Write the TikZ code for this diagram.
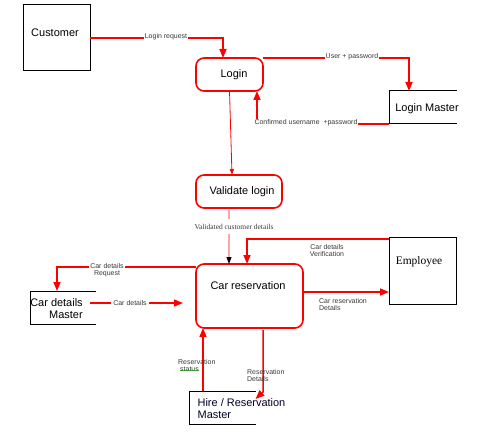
\documentclass[tikz,border=0pt]{standalone}
\usepackage{fontspec}
\setmainfont{Liberation Sans}
\newfontfamily\seriffont{Liberation Serif}
\usetikzlibrary{arrows.meta,decorations.pathmorphing}
\begin{document}
\begin{tikzpicture}[x=1bp,y=-1bp,
  extbox/.style={draw=black, line width=1bp, inner sep=0, outer sep=0},
  procbox/.style={draw=red, line width=1.6bp, rounded corners=8bp, inner sep=0, outer sep=0},
  openbox/.style={inner sep=0, outer sep=0},
  boxline/.style={draw=black, line width=1bp},
  flow/.style={draw=red, line width=1.5bp, -{Triangle[length=9bp,width=7bp]}},
  thinflow/.style={draw=red, line width=0.8bp, -{Triangle[length=6bp,width=4bp]}},
  valflow/.style={draw=red, line width=0.9bp, -{Triangle[length=7bp,width=5bp,color=black,fill=black]}},
  lbl/.style={font=\fontsize{7}{7.4}\selectfont, text=black!78, fill=white, inner sep=1bp},
  txt/.style={font=\fontsize{11}{12}\selectfont, inner sep=0, text=black}]
\useasboundingbox (0,0) rectangle (479,433);

% nodes
\node[extbox, minimum width=67bp, minimum height=66bp] (cust) at (56.5,38) {};
\node[txt] (custt) at (55,33) {Customer};
\node[procbox, minimum width=67bp, minimum height=33bp] (login) at (229.5,74.5) {};
\node[txt] (logint) at (234,75) {Login};
\node[openbox, minimum width=68bp, minimum height=33bp] (lm) at (423,107.5) {};
\draw[boxline] (lm.north east) -- (lm.north west) -- (lm.south west) -- (lm.south east);
\node[txt] (lmt) at (427,109) {Login Master};
\node[procbox, minimum width=86bp, minimum height=33bp] (val) at (239,191.5) {};
\node[txt] (valt) at (242,192) {Validate login};
\node[procbox, minimum width=107bp, minimum height=64bp] (car) at (249.5,296) {};
\node[txt] (cart) at (248,286) {Car reservation};
\node[extbox, minimum width=67bp, minimum height=66bp] (emp) at (422.5,271) {};
\node[txt, font=\seriffont\fontsize{11.5}{13}\selectfont] (empt) at (419,262) {Employee};
\node[openbox, minimum width=66bp, minimum height=33bp] (cdm) at (63,307.5) {};
\draw[boxline] (cdm.north east) -- (cdm.north west) -- (cdm.south west) -- (cdm.south east);
\node[txt, align=right] (cdmt) at (56.5,308.5) {Car details\\Master};
\node[openbox, minimum width=67bp, minimum height=33bp] (hire) at (222.5,407.5) {};
\draw[boxline] (hire.north east) -- (hire.north west) -- (hire.south west) -- (hire.south east);
\node[txt, align=left, text=black!85!blue] (hiret) at (241.5,408.5) {Hire / Reservation\\Master};

% connectors
\draw[flow] (cust.east) -| ([xshift=-6.5bp]login.north);
\draw[flow] (login.north east) -| ([xshift=-14bp]lm.north);
\draw[flow] (lm.south west) -| ([xshift=27.5bp]login.south);
\draw[thinflow] (login.south) -- ([xshift=-7bp]val.north);
\draw[valflow] ([xshift=-10bp,yshift=-2bp]val.south) -- ([xshift=-20.5bp]car.north);
\draw[flow] ([yshift=-1bp]emp.north west) -| ([xshift=-2.5bp]car.north);
\coordinate (crd) at ([yshift=4bp]car.east);
\draw[flow] (crd) -- (crd -| emp.west);
\draw[flow] ([yshift=-3bp]car.north west) -| ([xshift=-6bp]cdm.north);
\coordinate (cd1) at ([xshift=-6bp,yshift=4.5bp]cdm.east);
\coordinate (cd2) at (cd1 -| car.west);
\draw[flow] (cd1) -- ([xshift=-13bp]cd2);
\coordinate (rs) at ([xshift=-19.5bp]hire.north);
\draw[flow] (rs) -- (rs |- car.south);
\coordinate (rd) at ([xshift=13.5bp,yshift=-2bp]car.south);
\coordinate (rdb) at (263,392);
\coordinate (rde) at (255.5,399);
\draw[flow] (rd) -- (rdb) -- (rde);

% labels
\node[lbl] (l1) at (166,37) {Login request};
\node[lbl] (l2) at (352,57) {User + password};
\node[lbl] (l3) at (306,123) {Confirmed username\ \ +password};
\node[lbl, font=\seriffont\fontsize{7.5}{8}\selectfont, inner ysep=5bp] (l4) at (234,226.5) {Validated customer details};
\node[lbl, align=center, fill=none] (l5) at (327,250.5) {Car details\\Verification};
\node[lbl, align=center] (l6) at (107,270.5) {Car details\\Request};
\node[lbl, inner xsep=2bp] (l7) at (130,303) {Car details};
\node[lbl, align=left, anchor=west, fill=none] (l8) at (318,304.5) {Car reservation\\Details};
\node[lbl, align=left, anchor=west, fill=none] (l9) at (177,365.5) {Reservation\\\hspace*{2bp}status};
\node[lbl, align=left, anchor=west, fill=none] (l10) at (246,375.5) {Reservation\\Details};
\draw[green!60!black, line width=0.5bp, decorate, decoration={snake, amplitude=0.5bp, segment length=2bp}] (180,370.5) -- (199,370.5);
\end{tikzpicture}
\end{document}
